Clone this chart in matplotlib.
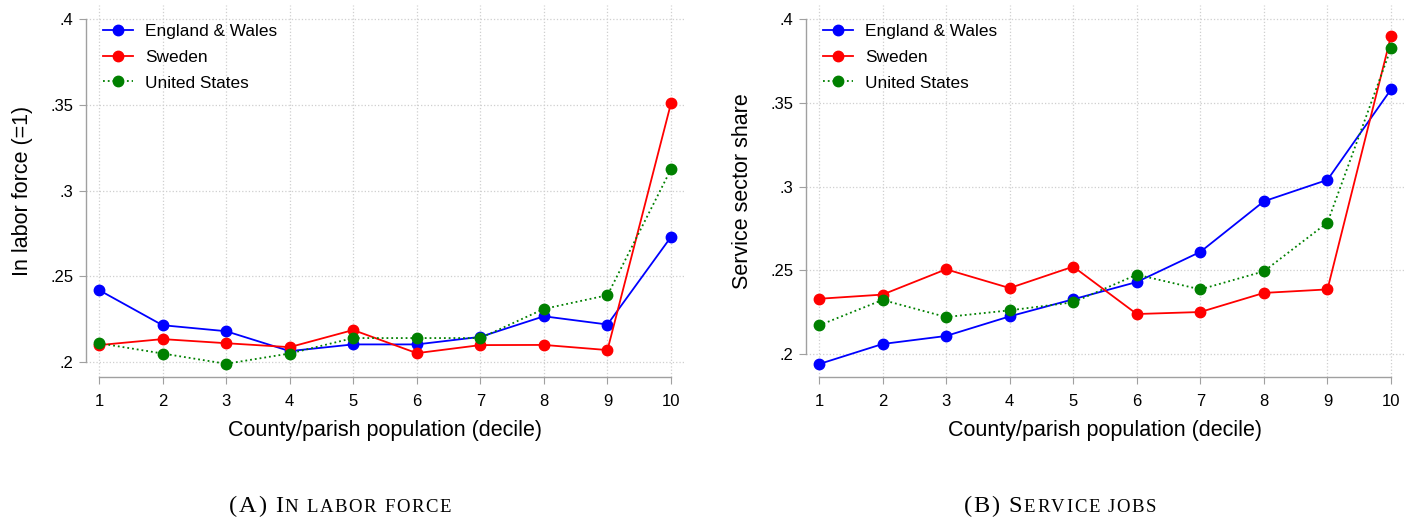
import matplotlib
matplotlib.use('Agg')
import matplotlib.pyplot as plt

plt.rcParams['font.family'] = ['Liberation Sans', 'DejaVu Sans']

# data
deciles = [1, 2, 3, 4, 5, 6, 7, 8, 9, 10]
series_names = ['England & Wales', 'Sweden', 'United States']

labor_ew = [0.242, 0.2215, 0.218, 0.2064, 0.2103, 0.2103, 0.2147, 0.2267, 0.2219, 0.273]
labor_se = [0.2099, 0.2134, 0.211, 0.2087, 0.2187, 0.2052, 0.2099, 0.210, 0.207, 0.351]
labor_us = [0.211, 0.205, 0.199, 0.205, 0.214, 0.214, 0.214, 0.231, 0.239, 0.3125]

service_ew = [0.194, 0.206, 0.2108, 0.2225, 0.2327, 0.243, 0.261, 0.2912, 0.304, 0.358]
service_se = [0.233, 0.2355, 0.2506, 0.2394, 0.2522, 0.2239, 0.2251, 0.2365, 0.2386, 0.390]
service_us = [0.2171, 0.2323, 0.2221, 0.2261, 0.2309, 0.2474, 0.2386, 0.2494, 0.2785, 0.3826]

yticks = [0.2, 0.25, 0.3, 0.35, 0.4]
ytick_labels = ['.2', '.25', '.3', '.35', '.4']

colors = ['#0000ff', '#ff0000', '#008000']
styles = ['-', '-', ':']

W, H = 1416, 518
fig = plt.figure(figsize=(W / 100, H / 100), dpi=100)


def panel(left_px, right_px, ylim, ylabel, label_x, values):
    ax = fig.add_axes([left_px / W, (H - 377) / H, (right_px - left_px) / W, (377 - 5) / H])
    for vals, name, c, ls in zip(values, series_names, colors, styles):
        ax.plot(deciles, vals, ls, color=c, lw=1.3, marker='o', ms=7.5,
                markeredgecolor=c, label=name, zorder=3)
    ax.set_xlim(0.796, 10.204)
    ax.set_ylim(*ylim)
    ax.set_xticks(deciles)
    ax.set_yticks(yticks)
    ax.set_yticklabels(ytick_labels)
    ax.grid(True, linestyle=':', color='#cfcfcf', lw=0.9)
    for s in ['top', 'right']:
        ax.spines[s].set_visible(False)
    for s in ['left', 'bottom']:
        ax.spines[s].set_color('#a0a0a0')
        ax.spines[s].set_linewidth(1.0)
    ax.spines['left'].set_bounds(0.2, 0.4)
    ax.spines['bottom'].set_bounds(1, 10)
    ax.tick_params(direction='out', length=5, color='#a0a0a0', labelsize=12,
                   labelcolor='black', pad=4)
    ax.tick_params(axis='x', pad=7)
    ax.set_xlabel('County/parish population (decile)', fontsize=15.5, labelpad=8)
    ax.set_ylabel(ylabel, fontsize=15.5)
    ax.yaxis.set_label_coords(label_x, 0.5)
    ax.legend(loc='upper left', bbox_to_anchor=(17 / (right_px - left_px), 1 - 19 / 372),
              frameon=False, fontsize=12.4, handlelength=1.75, handletextpad=0.7,
              labelspacing=0.62, borderpad=0, borderaxespad=0)
    return ax


panel(86, 684, (0.1913, 0.4082), 'In labor force (=1)', -0.088,
      [labor_ew, labor_se, labor_us])
panel(806, 1404, (0.1863, 0.4084), 'Service sector share', -0.089,
      [service_ew, service_se, service_us])


# small-caps style captions, drawn letter by letter with a little tracking
def caption(cx, parts, base_px=512, track=1.6):
    r = fig.canvas.get_renderer()
    placed = []
    x = 0.0
    for s, size in parts:
        for ch in s:
            if ch == ' ':
                x += 0.25 * size / 72 * 100 + track
                continue
            t = fig.text(0, (H - base_px) / H, ch, fontsize=size,
                         family='Liberation Serif', va='baseline', ha='left')
            w = t.get_window_extent(r).width
            placed.append((t, x))
            x += w + track
    x0 = cx - (x - track) / 2
    for t, off in placed:
        t.set_x((x0 + off) / W)


caption(340, [('(A) I', 17.5), ('N LABOR FORCE', 13.5)])
caption(1060, [('(B) S', 17.5), ('ERVICE JOBS', 13.5)])

fig.savefig('out.png', dpi=100)
